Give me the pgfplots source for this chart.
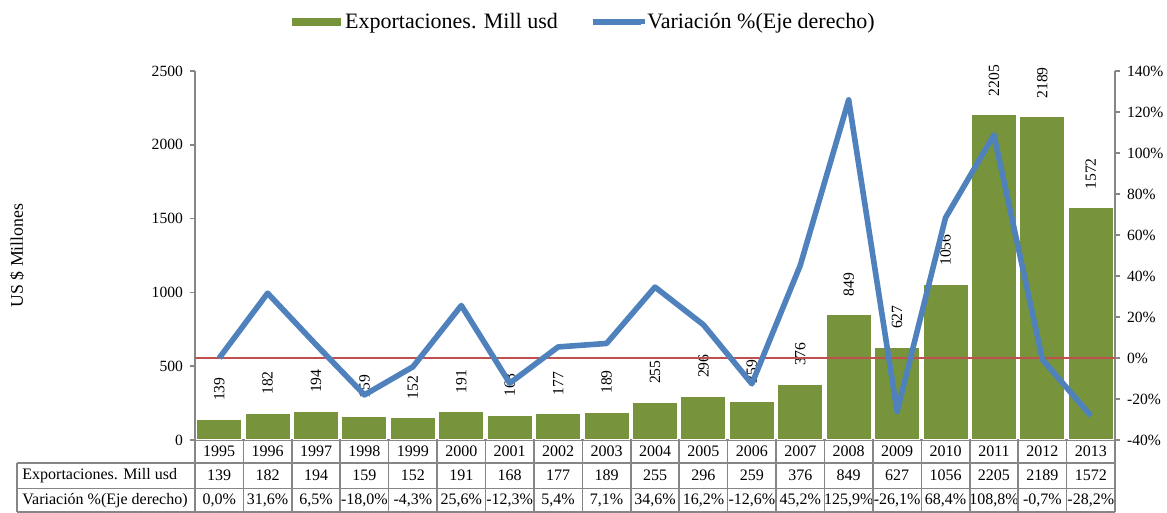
\documentclass[border=0pt]{standalone}
\usepackage{pgfplots}
\pgfplotsset{compat=1.18}
\usepackage{pgfplotstable}
\usepackage{fontspec}
\setmainfont{Liberation Serif}

\definecolor{barverde}{HTML}{77933C}
\definecolor{lineazul}{HTML}{4F81BD}
\definecolor{rojo}{HTML}{C0504D}
\definecolor{ejegris}{HTML}{868686}

\newcommand\fs{\fontsize{7.8}{9}\selectfont}
\newcommand\ft{\fontsize{8}{9.5}\selectfont}
\newcommand\fy{\fontsize{8.9}{10}\selectfont}
\newcommand\fl{\fontsize{11}{13}\selectfont}

% anio, exportaciones (mill usd), variacion (%)
\pgfplotstableread{
anio exp var varstr
1995 139 0.0 0,0
1996 182 31.6 31,6
1997 194 6.5 6,5
1998 159 -18.0 -18,0
1999 152 -4.3 -4,3
2000 191 25.6 25,6
2001 168 -12.3 -12,3
2002 177 5.4 5,4
2003 189 7.1 7,1
2004 255 34.6 34,6
2005 296 16.2 16,2
2006 259 -12.6 -12,6
2007 376 45.2 45,2
2008 849 125.9 125,9
2009 627 -26.1 -26,1
2010 1056 68.4 68,4
2011 2205 108.8 108,8
2012 2189 -0.7 -0,7
2013 1572 -28.2 -28,2
}\datos

\pgfplotsset{
  base/.style={
    at={(0,0)}, anchor=south west,
    scale only axis, width=460pt, height=184.5pt,
    xmin=1994.5, xmax=2013.5,
    clip=false,
    axis line style={ejegris, line width=0.8pt},
    major tick style={ejegris, line width=0.8pt},
    major tick length=2.5pt,
    tick align=outside,
    tick label style={font=\fs},
    /pgf/number format/assume math mode=true,
    /pgf/number format/1000 sep={},
  },
  fila/.style={draw=none, mark=none, point meta=explicit symbolic,
    nodes near coords={\pgfplotspointmeta},
    every node near coord/.append style={font=\ft, anchor=center}},
}

\begin{document}
\begin{tikzpicture}
\begin{axis}[base,
  ymin=0, ymax=2500,
  ytick={0,500,...,2500},
  axis y line*=left, axis x line*=bottom,
  xtick=\empty,
]
\addplot[ybar, bar width=0.93, fill=barverde, draw=white, line width=0.5pt,
  nodes near coords={\rotatebox{90}{\pgfmathprintnumber\pgfplotspointmeta}},
  every node near coord/.append style={font=\fs, inner sep=0pt, anchor=south, yshift=9pt}]
  table[x=anio, y=exp]{\datos};
% filas de la tabla bajo el eje
\addplot[fila] table[x=anio, y expr=-78, meta=anio]{\datos};
\addplot[fila] table[x=anio, y expr=-240.5, meta=exp]{\datos};
\addplot[fila, nodes near coords={\pgfplotspointmeta\%}]
  table[x=anio, y expr=-410, meta=varstr]{\datos};
\end{axis}

\begin{axis}[base,
  ymin=-40, ymax=140,
  ytick={-40,-20,...,140},
  yticklabel={\pgfmathprintnumber{\tick}\%},
  axis y line*=right, axis x line=none,
  legend columns=2,
  legend style={at={(0.1054,1.133)}, anchor=west, draw=none, fill=none,
    font=\fl, inner sep=0pt,
    /tikz/every even column/.append style={column sep=14pt}},
]
\addlegendimage{legend image code/.code={\fill[barverde] (0pt,-1.75pt) rectangle (24pt,1.75pt);}}
\addlegendentry{Exportaciones. Mill usd}
\addplot[rojo, line width=1pt, forget plot] coordinates {(1994.5,0) (2013.5,0)};
\addplot[lineazul, line width=2.8pt, line join=round, mark=none,
  legend image code/.code={\path (0pt,0pt) -- (24pt,0pt);
    \draw[overlay, lineazul, line width=2.5pt] (0pt,0pt) -- (26pt,0pt);}]
  table[x=anio, y=var]{\datos};
\addlegendentry{Variación \%(Eje derecho)}
\end{axis}

% cuadricula de la tabla
\begin{scope}[ejegris, line width=0.8pt]
\draw (-89pt,-11.5pt) -- (460pt,-11.5pt);
\draw (-89pt,-24.25pt) -- (460pt,-24.25pt);
\draw (-89pt,-36pt) -- (460pt,-36pt);
\draw (-89pt,-11.5pt) -- (-89pt,-36pt);
\foreach \i in {0,...,19} \draw ({\i*460pt/19},0pt) -- ({\i*460pt/19},-36pt);
\end{scope}
\node[anchor=west, font=\ft, inner sep=0pt] at (-86.5pt,-17.75pt) {Exportaciones. Mill usd};
\node[anchor=west, font=\ft, inner sep=0pt] at (-86.5pt,-30.25pt) {Variación \%(Eje derecho)};
\node[rotate=90, font=\fy] at (-89pt,92.25pt) {US \$ Millones};

\pgfresetboundingbox
\path (-97.5pt,-36.5pt) rectangle (486pt,220pt);
\end{tikzpicture}
\end{document}
